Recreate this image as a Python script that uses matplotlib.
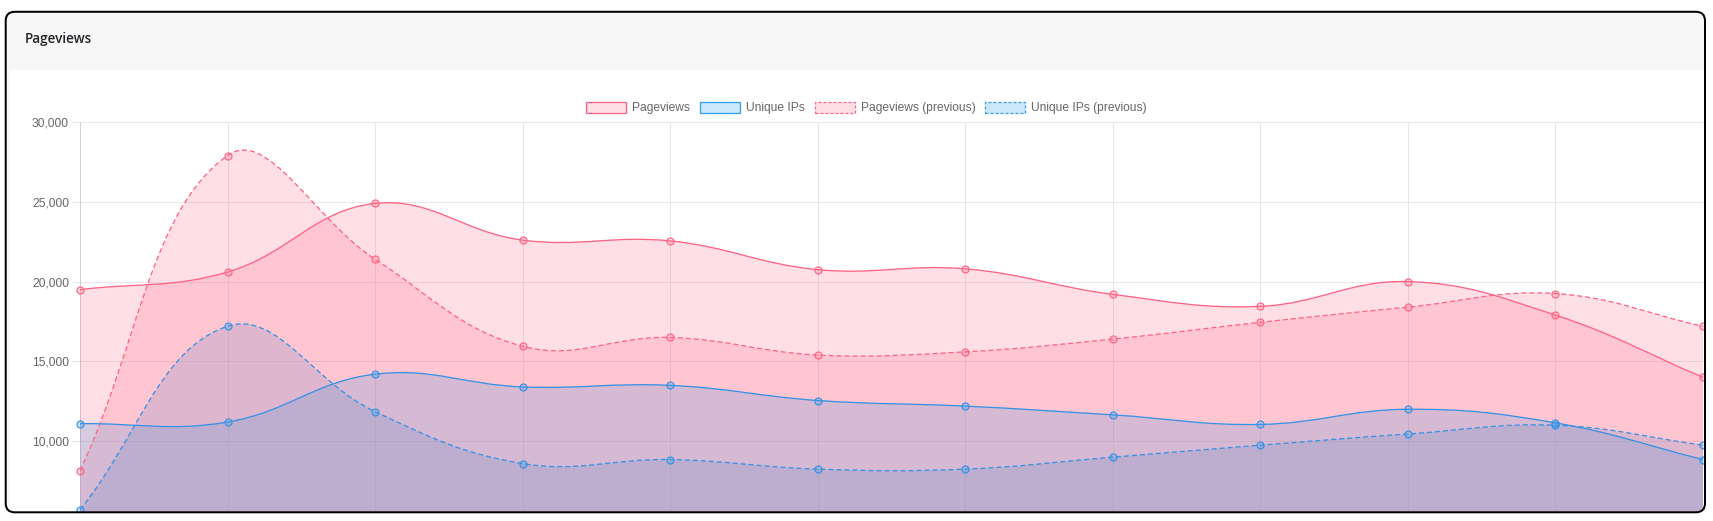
import numpy as np
import matplotlib
matplotlib.use('Agg')
import matplotlib.pyplot as plt
from matplotlib.path import Path
from matplotlib.patches import PathPatch, FancyBboxPatch, Rectangle, Patch
from matplotlib.ticker import FuncFormatter
from matplotlib import transforms

# chart data
points = list(range(12))
pageviews = [19500, 20600, 24900, 22600, 22550, 20750, 20800, 19200, 18450, 20000, 17900, 14000]
unique_ips = [11100, 11200, 14200, 13400, 13500, 12550, 12200, 11650, 11050, 12000, 11150, 8850]
pageviews_prev = [8150, 27900, 21400, 15950, 16500, 15400, 15600, 16400, 17450, 18400, 19250, 17200]
unique_ips_prev = [5700, 17200, 11850, 8600, 8850, 8250, 8250, 9000, 9750, 10450, 11000, 9750]
y_ticks = [10000, 15000, 20000, 25000, 30000]
series_names = ['Pageviews', 'Unique IPs', 'Pageviews (previous)', 'Unique IPs (previous)']

W, H, DPI = 1713, 521, 100
PX = 72 / DPI  # points per pixel

PINK = (255/255, 99/255, 132/255)
BLUE = (54/255, 162/255, 235/255)
BLUE_LINE = '#3592e6'
PINK_FILL = PINK + (0.2,)
BLUE_FILL = BLUE + (0.25,)
GRID = '#e6e6e6'

plt.rcParams['font.family'] = ['Liberation Sans', 'DejaVu Sans']
plt.rcParams['lines.scale_dashes'] = False

fig = plt.figure(figsize=(W / DPI, H / DPI), dpi=DPI)
fig.patch.set_facecolor('white')

# pixel coords, origin top-left
px = transforms.Affine2D().scale(1 / W, -1 / H).translate(0, 1) + fig.transFigure

# card
card_bg = FancyBboxPatch((5.7, 11.8), 1699.3, 500.5, boxstyle='round,pad=0,rounding_size=9',
                         facecolor='#f7f7f7', edgecolor='none', transform=px, zorder=-3)
fig.patches.append(card_bg)
body = Rectangle((10, 70), 1700, 450, facecolor='white', edgecolor='none', transform=px, zorder=-2)
body.set_clip_path(card_bg)
fig.patches.append(body)
card_border = FancyBboxPatch((5.7, 11.8), 1699.3, 500.5, boxstyle='round,pad=0,rounding_size=9',
                             facecolor='none', edgecolor='black', linewidth=2 * PX,
                             transform=px, zorder=10)
fig.patches.append(card_border)
fig.text(25, 38.5, 'Pageviews', transform=px, ha='left', va='center',
         fontsize=13.5 * PX, color='#212529', family=['Open Sans', 'DejaVu Sans'],
         fontweight='semibold', zorder=11)

# plot area: x 80..1703, y 122..512 (pixels); canvas runs on to y=521 (5,000) but the card cuts it
ax = fig.add_axes([80 / W, (H - 512) / H, (1703 - 80) / W, (512 - 122) / H])
ax.set_facecolor('none')
ax.set_xlim(points[0], points[-1])
ax.set_ylim(5000 + (521 - 512) * 25000 / (521 - 122), 30000)
ax.set_xticks(points)
ax.set_yticks(y_ticks)
ax.yaxis.set_major_formatter(FuncFormatter(lambda v, p: f'{v:,.0f}'))
ax.grid(True, color=GRID, linewidth=1 * PX)
ax.set_axisbelow(True)
for s in ['top', 'right', 'bottom']:
    ax.spines[s].set_visible(False)
ax.spines['left'].set_color('#d0d0d0')
ax.spines['left'].set_linewidth(1 * PX)
ax.tick_params(axis='x', length=0, labelbottom=False)
ax.tick_params(axis='y', length=8 * PX, width=1 * PX, color=GRID, pad=3 * PX,
               labelsize=12 * PX, labelcolor='#666666')


def spline(xs, ys, tension=0.4):
    # chart.js style bezier control points, computed in pixel space
    pts = ax.transData.transform(np.column_stack([xs, ys]))
    bb = ax.bbox
    n = len(pts)
    cps = []
    for i in range(n):
        prev = pts[i - 1] if i > 0 else pts[i]
        cur = pts[i]
        nxt = pts[i + 1] if i < n - 1 else pts[i]
        d01 = np.hypot(*(cur - prev))
        d12 = np.hypot(*(nxt - cur))
        tot = d01 + d12
        s01 = d01 / tot if tot else 0
        s12 = d12 / tot if tot else 0
        a = cur - tension * s01 * (nxt - prev)
        b = cur + tension * s12 * (nxt - prev)
        for c in (a, b):
            c[0] = min(max(c[0], bb.x0), bb.x1)
            c[1] = min(max(c[1], bb.y0 - 20), bb.y1)
        cps.append((a, b))
    verts = [pts[0]]
    for i in range(1, n):
        verts += [cps[i - 1][1], cps[i][0], pts[i]]
    verts = ax.transData.inverted().transform(np.array(verts))
    codes = [Path.MOVETO] + [Path.CURVE4] * (3 * (n - 1))
    return verts, codes


datasets = [
    (pageviews, PINK, PINK_FILL, '-'),
    (unique_ips, BLUE_LINE, BLUE_FILL, '-'),
    (pageviews_prev, PINK, PINK_FILL, '--'),
    (unique_ips_prev, BLUE_LINE, BLUE_FILL, '--'),
]

# all fills first (last dataset at the bottom), then lines and points on top
z = 1
for vals, col, fill, ls in reversed(datasets):
    verts, codes = spline(points, vals)
    fverts = np.vstack([verts, [[points[-1], 0], [points[0], 0], [points[0], 0]]])
    fcodes = codes + [Path.LINETO, Path.LINETO, Path.CLOSEPOLY]
    area = PathPatch(Path(fverts, fcodes), facecolor=fill, edgecolor='none', zorder=z)
    ax.add_patch(area)
    area.set_clip_path(card_bg)
    z += 1

for vals, col, fill, ls in reversed(datasets):
    verts, codes = spline(points, vals)
    line = PathPatch(Path(verts, codes), facecolor='none', edgecolor=col,
                     linewidth=1.3 * PX, zorder=z)
    if ls == '--':
        line.set_linestyle((0, (5 * PX, 3 * PX)))
    ax.add_patch(line)
    line.set_clip_box(fig.bbox)
    line.set_clip_path(card_bg)
    mk, = ax.plot(points, vals, 'o', markersize=7 * PX, markerfacecolor=fill,
                  markeredgecolor=col, markeredgewidth=1.2 * PX, zorder=z + 0.5)
    mk.set_clip_box(fig.bbox)
    mk.set_clip_path(card_bg)
    z += 1

# legend
handles = []
for (vals, col, fill, ls), name in zip(datasets, series_names):
    edge = PINK if col == PINK else BLUE
    handles.append(Patch(facecolor=fill, edgecolor=edge, linewidth=1.3 * PX,
                         linestyle='-' if ls == '-' else (0, (3 * PX, 2 * PX)), label=name))
fig.legend(handles=handles, loc='center', bbox_to_anchor=(866.4 / W, 1 - 108 / H),
           ncol=4, frameon=False, fontsize=12 * PX, handlelength=40 / 12, handleheight=1.0,
           handletextpad=6 / 12, columnspacing=10 / 12, borderpad=0, labelcolor='#666666')

fig.savefig('out.png', dpi=DPI)
